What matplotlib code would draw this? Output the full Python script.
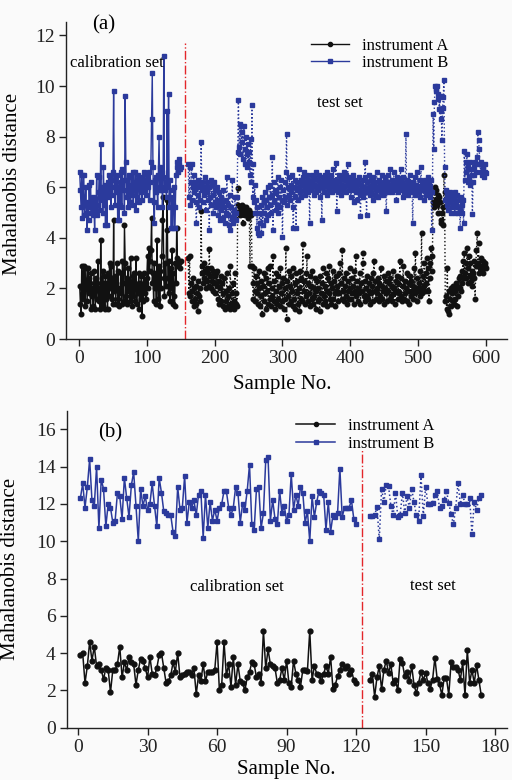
import numpy as np
import matplotlib
matplotlib.use("Agg")
import matplotlib.pyplot as plt

plt.rcParams['font.family'] = ['Liberation Serif', 'DejaVu Serif']

# ---------------- Panel (a) data ----------------
a_cal_start = 1
a_test_start = 161
a_B_cal = [6.6, 5.9, 5.2, 6.5, 4.8, 5.6, 6.5, 4.9, 5.3, 6.0,
           5.0, 4.3, 5.4, 4.7, 6.1, 5.2, 6.2, 5.0, 5.5, 4.9,
           5.6, 5.2, 4.3, 5.5, 5.0, 6.5, 4.9, 5.3, 5.8, 6.4,
           5.1, 7.7, 5.5, 6.0, 5.0, 6.8, 5.3, 6.1, 4.5, 5.9,
           4.5, 6.2, 5.6, 6.5, 5.8, 6.4, 5.2, 6.3, 5.7, 6.6,
           9.8, 6.0, 5.3, 6.4, 5.8, 6.5, 4.7, 6.0, 4.7, 6.2,
           5.3, 6.6, 5.2, 6.7, 5.9, 6.3, 5.0, 9.6, 7.0, 5.6,
           6.3, 5.2, 6.5, 5.8, 6.1, 5.4, 6.4, 5.7, 6.6, 5.3,
           6.2, 5.9, 6.6, 5.1, 6.3, 5.6, 6.5, 6.0, 5.4, 6.3,
           5.8, 6.4, 5.5, 6.2, 6.0, 6.6, 5.9, 6.3, 5.7, 6.5,
           6.0, 6.3, 6.6, 5.5, 6.2, 7.0, 8.7, 10.5, 6.8, 5.4,
           4.6, 6.3, 5.8, 6.4, 6.0, 5.2, 6.5, 8.0, 5.9, 6.8,
           5.9, 6.6, 5.2, 6.4, 11.2, 6.0, 5.9, 6.2, 5.6, 9.0,
           6.0, 9.7, 5.2, 6.3, 5.9, 4.4, 5.6, 4.4, 5.3, 6.0,
           4.4, 5.2, 6.5, 6.8, 7.0, 6.6, 7.1, 6.9, 6.7, 6.8]
a_A_cal = [2.1, 1.4, 1.0, 2.9, 2.0, 1.6, 2.9, 2.3, 1.3, 2.8,
           2.1, 1.5, 2.8, 1.8, 2.4, 2.2, 1.2, 2.6, 1.7, 2.0,
           1.3, 2.7, 1.9, 1.2, 2.4, 1.6, 2.2, 3.1, 1.5, 2.0,
           1.2, 3.9, 1.8, 1.4, 2.7, 1.3, 2.2, 1.2, 2.5, 1.6,
           2.2, 1.2, 2.6, 1.7, 3.0, 2.0, 2.9, 1.6, 2.4, 1.4,
           4.7, 1.9, 2.5, 1.4, 2.2, 3.0, 1.6, 2.7, 1.3, 2.0,
           1.8, 2.6, 1.4, 3.1, 2.2, 1.5, 4.5, 3.0, 1.7, 2.4,
           1.4, 2.8, 1.9, 2.3, 1.5, 3.2, 2.0, 1.3, 2.5, 1.7,
           2.6, 1.5, 2.2, 3.2, 1.4, 2.1, 1.8, 2.6, 1.2, 2.2,
           1.6, 2.5, 0.9, 2.1, 1.5, 2.6, 1.8, 2.3, 1.6, 2.4,
           3.3, 2.0, 3.6, 2.7, 3.1, 3.5, 4.8, 2.2, 2.6, 1.5,
           3.0, 2.0, 2.6, 1.4, 3.9, 2.3, 1.6, 2.9, 1.3, 2.7,
           2.0, 3.3, 4.7, 5.6, 2.4, 1.7, 3.0, 2.1, 4.3, 5.5,
           2.4, 1.8, 3.1, 1.5, 2.8, 2.0, 3.5, 1.4, 2.6, 1.7,
           1.3, 3.0, 2.2, 4.4, 3.2, 2.9, 3.1, 3.0, 2.8, 3.1]
a_B_test = [6.9, 5.6, 6.8, 5.3, 6.2, 6.9, 5.5, 6.0, 6.5, 5.8,
            6.2, 5.4, 4.6, 6.0, 5.7, 6.3, 5.2, 6.1, 5.5, 7.8,
            5.9, 6.2, 5.4, 6.0, 5.7, 6.4, 5.1, 5.8, 6.2, 5.5,
            6.0, 4.3, 5.6, 6.3, 5.3, 6.1, 5.7, 5.0, 6.2, 5.4,
            5.9, 5.2, 6.0, 5.5, 4.9, 5.8, 5.3, 4.7, 5.6, 5.1,
            5.4, 4.8, 5.9, 5.2, 4.6, 5.5, 5.0, 6.4, 4.9, 5.3,
            4.5, 5.7, 4.3, 5.2, 4.8, 6.3, 4.6, 5.1, 4.9, 5.6,
            4.7, 5.0, 5.6, 7.4, 9.45, 7.6, 8.5, 7.3, 8.4, 7.8,
            8.2, 7.1, 8.4, 7.5, 6.9, 8.0, 7.3, 6.8, 7.7, 7.0,
            7.4, 6.5, 7.9, 6.2, 9.25, 5.6, 6.9, 5.4, 6.1, 5.0,
            5.5, 4.4, 5.2, 4.2, 4.1, 5.0, 4.6, 5.3, 4.2, 5.6,
            4.5, 5.4, 5.0, 5.8, 4.7, 5.5, 5.2, 6.0, 4.9, 5.6,
            5.3, 6.1, 5.0, 5.7, 7.2, 4.3, 6.2, 5.4, 5.9, 5.1,
            5.8, 5.3, 6.4, 5.0, 5.6, 6.0, 5.2, 6.3, 5.5, 4.05,
            5.9, 5.4, 6.2, 5.6, 6.6, 8.1, 5.3, 6.0, 5.7, 6.4,
            5.5, 6.1, 5.8, 6.5, 5.2, 4.4, 6.0, 5.6, 6.3, 4.4,
            5.9, 6.2, 5.5, 6.0, 6.7, 5.8, 6.3, 5.6, 6.1, 6.4,
            5.9, 6.6, 5.7, 6.2, 6.0, 6.5, 5.8, 6.3, 6.1, 4.6,
            6.2, 5.9, 6.5, 6.0, 6.3, 5.7, 6.4, 6.1, 5.8, 6.6,
            6.0, 6.3, 5.9, 6.5, 6.1, 5.6, 6.2, 4.7, 6.4, 6.0,
            5.8, 6.5, 6.1, 6.3, 5.7, 6.6, 6.0, 6.2, 5.9, 6.4,
            6.1, 6.5, 5.8, 6.2, 6.7, 6.0, 6.3, 5.9, 6.95, 5.05,
            6.2, 5.8, 6.5, 6.0, 6.3, 5.7, 6.4, 6.1, 5.9, 6.6,
            6.0, 6.3, 5.8, 6.5, 6.1, 6.9, 6.2, 5.9, 6.4, 6.0,
            5.6, 6.2, 5.9, 6.5, 6.0, 5.4, 6.3, 5.8, 6.1, 5.5,
            6.2, 5.9, 6.4, 5.7, 4.85, 6.1, 5.8, 6.3, 5.6, 6.0,
            6.4, 7.0, 5.8, 4.9, 6.2, 5.9, 6.5, 6.0, 5.7, 6.3,
            5.8, 6.1, 5.5, 6.4, 6.0, 5.7, 6.2, 5.9, 6.6, 6.0,
            5.6, 6.3, 5.9, 6.1, 5.8, 6.5, 6.0, 5.7, 6.2, 5.9,
            6.4, 6.0, 5.05, 6.2, 5.8, 6.5, 6.1, 5.9, 6.7, 6.0,
            6.3, 5.8, 6.1, 6.6, 5.9, 6.2, 6.0, 5.5, 6.4, 6.1,
            5.8, 6.3, 6.0, 6.7, 5.9, 6.2, 5.6, 6.4, 6.0, 5.8,
            6.1, 8.1, 5.9, 6.3, 5.7, 6.2, 6.0, 6.5, 5.8, 6.1,
            5.9, 4.6, 6.2, 6.0, 6.4, 5.7, 6.1, 5.9, 6.6, 6.0,
            5.8, 6.3, 5.6, 6.8, 6.1, 5.9, 6.2, 5.5, 6.0, 6.3,
            5.7, 6.1, 5.9, 6.4, 5.8, 6.2, 6.0, 5.6, 6.3, 4.3,
            5.8, 8.9, 7.5, 9.35, 10.0, 9.8, 9.9, 10.0, 9.5, 9.7,
            9.1, 9.6, 8.7, 9.0, 7.85, 9.15, 9.55, 10.25, 6.8, 5.5,
            5.9, 5.3, 5.7, 5.1, 5.6, 5.4, 5.8, 5.0, 5.5, 5.2,
            5.7, 5.3, 5.6, 5.0, 5.8, 5.4, 5.2, 5.7, 5.0, 5.5,
            5.1, 4.4, 5.6, 5.3, 5.0, 5.5, 4.6, 7.45, 6.3, 7.0,
            6.6, 7.3, 6.2, 6.8, 6.4, 7.0, 6.1, 6.7, 6.5, 4.95,
            6.2, 6.8, 6.5, 7.0, 6.6, 6.9, 7.2, 8.2, 7.85, 7.5,
            6.9, 6.6, 7.0, 6.5, 6.8, 6.7, 6.4, 6.9, 6.6, 6.55]
a_A_test = [3.2, 1.8, 3.3, 1.7, 2.2, 1.5, 1.9, 2.4, 1.3, 2.0,
            1.6, 2.1, 1.4, 1.8, 1.1, 2.3, 1.7, 2.0, 1.5, 5.05,
            2.6, 2.9, 2.2, 3.0, 2.4, 2.7, 2.0, 2.8, 2.3, 2.6,
            2.1, 3.55, 2.5, 2.0, 2.8, 2.3, 1.9, 2.7, 2.2, 2.5,
            1.8, 2.6, 2.1, 2.7, 1.6, 2.3, 1.4, 2.0, 2.5, 1.5,
            2.2, 1.3, 1.8, 2.4, 1.2, 1.9, 1.5, 2.6, 1.3, 1.7,
            2.0, 1.2, 2.9, 1.4, 1.8, 1.3, 2.2, 1.5, 1.2, 2.6,
            1.4, 1.8, 1.3, 5.95, 5.3, 5.0, 5.2, 4.9, 5.1, 5.3,
            5.0, 4.6, 5.2, 5.1, 4.9, 5.2, 5.0, 5.1, 4.8, 5.0,
            5.1, 2.9, 4.9, 5.0, 2.9, 2.2, 1.6, 2.8, 1.9, 1.5,
            2.5, 1.8, 2.2, 1.4, 2.0, 2.7, 1.3, 2.3, 1.7, 1.0,
            2.1, 1.5, 2.6, 1.8, 1.2, 2.4, 1.9, 2.8, 1.4, 2.2,
            1.6, 2.9, 1.3, 2.0, 1.7, 3.3, 1.5, 2.3, 1.2, 2.6,
            1.9, 1.4, 2.5, 1.6, 2.1, 1.3, 2.8, 1.8, 2.2, 1.5,
            2.4, 1.2, 2.0, 1.6, 3.6, 0.8, 2.3, 1.7, 2.7, 1.4,
            2.1, 1.5, 2.5, 1.9, 1.3, 2.8, 1.6, 2.2, 1.2, 2.6,
            1.8, 2.3, 1.4, 2.0, 1.1, 2.7, 1.6, 2.4, 1.5, 3.75,
            1.9, 2.3, 1.4, 2.6, 1.7, 3.3, 1.5, 2.2, 1.8, 2.5,
            1.3, 2.1, 1.6, 2.7, 1.4, 2.0, 1.7, 2.4, 1.2, 1.9,
            2.3, 1.5, 2.0, 1.6, 1.1, 2.5, 1.8, 2.2, 1.4, 2.8,
            1.7, 2.1, 1.5, 2.6, 1.9, 1.3, 2.4, 1.8, 2.9, 1.6,
            2.2, 1.4, 2.0, 2.7, 1.6, 2.3, 1.8, 1.3, 2.5, 1.9,
            2.1, 1.5, 2.6, 1.8, 3.0, 2.2, 1.6, 3.5, 1.9, 2.4,
            1.5, 2.1, 1.7, 2.6, 1.4, 2.3, 1.9, 1.6, 2.8, 2.0,
            1.6, 2.4, 1.8, 2.1, 1.4, 2.7, 1.9, 3.3, 1.7, 2.3,
            1.5, 2.0, 1.8, 2.6, 1.4, 2.2, 1.9, 3.0, 3.4, 1.7,
            2.3, 1.5, 2.0, 1.7, 2.5, 1.6, 2.2, 1.9, 1.4, 2.4,
            1.8, 2.1, 1.5, 2.6, 3.1, 1.9, 2.3, 1.6, 2.0, 1.8,
            2.4, 1.5, 2.2, 1.7, 2.8, 1.6, 2.1, 1.9, 2.5, 1.4,
            2.0, 1.8, 2.3, 1.5, 2.6, 1.9, 2.2, 1.6, 2.4, 1.7,
            2.1, 1.5, 2.7, 1.8, 2.0, 1.4, 2.3, 1.9, 2.5, 1.6,
            2.2, 1.8, 3.1, 1.7, 2.4, 1.5, 2.1, 2.9, 1.6, 2.3,
            1.8, 2.0, 1.5, 2.6, 1.9, 2.2, 1.4, 2.5, 1.7, 2.3,
            1.9, 2.1, 1.6, 2.8, 1.8, 3.4, 2.0, 1.5, 2.4, 1.9,
            2.2, 1.7, 2.7, 2.0, 4.2, 1.8, 2.5, 2.1, 3.0, 1.9,
            2.6, 2.2, 3.2, 1.9, 2.8, 1.5, 2.4, 3.0, 3.6, 2.7,
            3.3, 5.4, 5.8, 5.2, 6.0, 5.5, 5.9, 5.3, 5.7, 5.0,
            5.6, 5.4, 4.6, 4.7, 5.0, 5.2, 4.5, 6.5, 5.8, 1.5,
            1.7, 1.2, 2.8, 1.1, 1.9, 1.0, 1.6, 2.0, 1.3, 1.8,
            1.5, 2.1, 1.4, 1.9, 1.6, 2.2, 1.3, 2.0, 1.7, 2.4,
            2.0, 2.5, 1.9, 2.7, 2.2, 3.1, 2.4, 3.4, 2.6, 3.0,
            2.4, 3.6, 2.8, 2.2, 3.3, 2.5, 3.0, 2.3, 2.7, 2.1,
            2.6, 3.1, 2.4, 1.6, 2.9, 3.5, 4.2, 3.0, 3.8, 2.6,
            2.8, 3.2, 2.7, 2.9, 3.1, 2.6, 2.8, 2.9, 3.0, 2.8]

# ---------------- Panel (b) data ----------------
b_cal_start = 1
b_test_start = 126
b_B_cal = [12.3, 13.1, 11.8, 12.9, 14.4, 12.2, 11.9, 14.0, 10.7, 13.3,
           12.8, 10.8, 12.0, 11.8, 11.0, 11.1, 12.6, 12.4, 11.2, 13.4,
           12.3, 11.3, 13.0, 13.7, 11.9, 10.0, 12.8, 11.9, 12.4, 11.7,
           12.0, 13.1, 11.9, 10.8, 13.4, 12.6, 11.6, 11.5, 11.4, 11.4,
           10.5, 10.3, 12.9, 11.7, 11.8, 13.5, 11.0, 12.1, 11.8, 12.2,
           11.4, 12.5, 12.7, 10.2, 12.5, 10.7, 12.1, 11.1, 11.7, 11.1,
           11.8, 12.0, 12.7, 12.7, 11.8, 11.4, 11.8, 12.9, 12.6, 11.0,
           12.0, 11.7, 12.7, 14.1, 10.9, 10.6, 12.8, 12.9, 10.7, 11.5,
           14.35, 14.5, 11.1, 12.2, 11.2, 10.9, 12.7, 11.5, 11.9, 11.1,
           11.4, 13.6, 11.7, 12.5, 11.9, 12.9, 12.6, 11.0, 11.6, 10.0,
           12.4, 11.3, 12.1, 12.7, 12.6, 12.5, 10.6, 12.1, 10.5, 11.4,
           11.3, 11.5, 13.9, 11.3, 11.8, 11.8, 11.8, 12.2, 11.2, 10.9]
b_A_cal = [3.9, 4.0, 2.4, 3.3, 4.6, 3.6, 4.35, 3.3, 3.4, 3.1,
           2.6, 3.2, 3.1, 1.9, 3.1, 3.1, 3.4, 4.35, 2.7, 3.5,
           3.1, 3.8, 3.5, 3.4, 2.3, 3.1, 3.7, 3.6, 3.2, 2.7,
           3.8, 2.9, 2.8, 3.2, 3.9, 4.0, 3.2, 2.4, 2.5, 2.8,
           3.5, 3.0, 4.0, 2.7, 2.8, 2.9, 3.0, 3.0, 2.8, 3.2,
           1.8, 2.8, 2.5, 3.4, 2.5, 3.0, 3.0, 3.0, 3.1, 4.6,
           2.0, 2.3, 4.6, 2.8, 3.4, 2.2, 3.8, 2.3, 3.4, 2.5,
           2.4, 2.0, 2.7, 3.0, 3.5, 3.4, 2.7, 2.9, 2.4, 5.2,
           3.2, 4.2, 3.4, 3.3, 3.2, 2.4, 2.55, 3.2, 2.55, 3.6,
           2.4, 2.2, 3.6, 2.9, 2.55, 2.2, 3.1, 3.1, 3.05, 5.2,
           2.55, 3.3, 2.9, 2.8, 2.5, 2.9, 3.3, 2.9, 3.8, 2.1,
           2.3, 2.75, 3.1, 3.4, 3.2, 3.3, 2.9, 3.1, 2.55, 2.4]
b_B_test = [11.35, 11.35, 11.4, 11.85, 10.1, 12.8, 12.1, 13.0, 12.95, 11.9,
            11.4, 12.6, 11.3, 11.4, 12.6, 11.5, 12.4, 11.8, 12.8, 12.1,
            11.4, 11.1, 13.55, 11.35, 12.9, 12.0, 12.0, 12.05, 12.5, 12.7,
            11.8, 11.9, 12.2, 12.7, 12.05, 11.45, 10.9, 11.8, 13.1, 12.0,
            12.5, 12.0, 12.0, 12.3, 10.4, 12.1, 11.7, 12.3, 12.5]
b_A_test = [2.56, 2.9, 1.66, 2.7, 3.3, 2.05, 3.1, 3.6, 2.95, 3.4,
            2.4, 2.56, 2.0, 3.7, 3.45, 2.75, 3.0, 2.5, 3.3, 2.3,
            1.85, 2.4, 3.0, 2.56, 2.95, 2.4, 2.1, 2.56, 3.75, 2.6,
            2.35, 1.75, 2.65, 2.65, 1.75, 3.5, 3.25, 3.25, 3.1, 2.56,
            3.5, 1.75, 4.17, 2.4, 3.1, 2.4, 3.35, 2.56, 1.75]

a_divider = 156
b_divider = 122.5

BLUE = '#2b3a9c'
BLACK = '#111111'
RED = '#e3262a'
BG = '#fafafa'

fig = plt.figure(figsize=(5.12, 7.80), dpi=100, facecolor=BG)


def style_axes(ax):
    ax.set_facecolor(BG)
    for s in ['top', 'right']:
        ax.spines[s].set_visible(False)
    for s in ['left', 'bottom']:
        ax.spines[s].set_linewidth(1.0)
        ax.spines[s].set_color('#222222')
    ax.tick_params(direction='out', length=5, width=1, labelsize=14,
                   colors='#222222', pad=3)


# ---------- (a) ----------
ax1 = fig.add_axes([66 / 512, 1 - 339 / 780, 441 / 512, 317 / 780])
style_axes(ax1)
xa_cal = np.arange(a_cal_start, a_cal_start + len(a_B_cal))
xa_test = np.arange(a_test_start, a_test_start + len(a_B_test))
ax1.plot(xa_cal, a_A_cal, '-', color=BLACK, lw=1.0, marker='o', ms=3.3,
         label='instrument A')
ax1.plot(xa_cal, a_B_cal, '-', color=BLUE, lw=1.0, marker='s', ms=3.0,
         label='instrument B')
ax1.plot(xa_test, a_A_test, ':', color=BLACK, lw=1.0, marker='o', ms=3.3)
ax1.plot(xa_test, a_B_test, ':', color=BLUE, lw=1.0, marker='s', ms=3.0)
ax1.plot([a_divider, a_divider], [0, 11.7], color=RED, lw=1.0, ls='-.')
ax1.set_xlim(-19.2, 631)
ax1.set_ylim(0, 12.53)
ax1.set_xticks([0, 100, 200, 300, 400, 500, 600])
ax1.set_yticks([0, 2, 4, 6, 8, 10, 12])
ax1.set_ylabel('Mahalanobis distance', fontsize=15)
ax1.yaxis.set_label_coords(-0.10, 0.49)
ax1.set_xlabel('Sample No.', fontsize=15)
ax1.xaxis.set_label_coords(0.49, -0.112)
ax1.text(0.059, 0.99, '(a)', transform=ax1.transAxes, fontsize=15,
         ha='left', va='center')
ax1.text(0.01, 0.87, 'calibration set', transform=ax1.transAxes,
         fontsize=12, ha='left', va='center')
ax1.text(0.57, 0.745, 'test set', transform=ax1.transAxes, fontsize=12,
         ha='left', va='center')
leg1 = ax1.legend(loc='upper left', bbox_to_anchor=(0.54, 0.972), frameon=False,
                  fontsize=12, handlelength=2.3, handletextpad=0.8,
                  labelspacing=0.1, borderaxespad=0)
for h in leg1.legend_handles:
    h.set_markersize(3)

# ---------- (b) ----------
ax2 = fig.add_axes([66.7 / 512, 1 - 727.7 / 780, 440 / 512, 317 / 780])
style_axes(ax2)
xb_cal = np.arange(b_cal_start, b_cal_start + len(b_B_cal))
xb_test = np.arange(b_test_start, b_test_start + len(b_B_test))
ax2.plot(xb_cal, b_A_cal, '-', color=BLACK, lw=1.1, marker='o', ms=3.5,
         label='instrument A')
ax2.plot(xb_cal, b_B_cal, '-', color=BLUE, lw=1.1, marker='s', ms=3.3,
         label='instrument B')
ax2.plot(xb_test, b_A_test, '-', color=BLACK, lw=1.1, marker='o', ms=3.5)
ax2.plot(xb_test, b_B_test, ':', color=BLUE, lw=1.1, marker='s', ms=3.3)
ax2.plot([b_divider, b_divider], [0, 14.9], color=RED, lw=1.0, ls='-.')
ax2.set_xlim(-4.9, 185)
ax2.set_ylim(0, 17.0)
ax2.set_xticks([0, 30, 60, 90, 120, 150, 180])
ax2.set_yticks([0, 2, 4, 6, 8, 10, 12, 14, 16])
ax2.set_ylabel('Mahalanobis distance', fontsize=15)
ax2.yaxis.set_label_coords(-0.106, 0.50)
ax2.set_xlabel('Sample No.', fontsize=15)
ax2.xaxis.set_label_coords(0.50, -0.102)
ax2.text(0.071, 0.93, '(b)', transform=ax2.transAxes, fontsize=15,
         ha='left', va='center')
ax2.text(0.28, 0.445, 'calibration set', transform=ax2.transAxes,
         fontsize=12, ha='left', va='center')
ax2.text(0.78, 0.448, 'test set', transform=ax2.transAxes, fontsize=12,
         ha='left', va='center')
leg2 = ax2.legend(loc='upper left', bbox_to_anchor=(0.507, 0.997), frameon=False,
                  fontsize=12, handlelength=2.3, handletextpad=0.8,
                  labelspacing=0.1, borderaxespad=0)
for h in leg2.legend_handles:
    h.set_markersize(3)

fig.savefig('out.png', dpi=100, facecolor=BG)
